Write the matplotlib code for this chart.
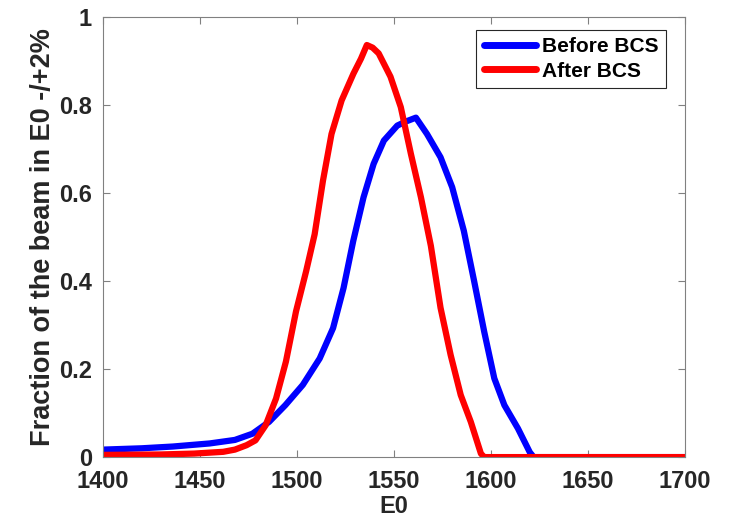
import numpy as np
import matplotlib.pyplot as plt

# Before BCS (blue)
e_before = [1400, 1420, 1436, 1455, 1468, 1477, 1485.6, 1494, 1503, 1511.7, 1518.6, 1524,
            1529, 1534.3, 1539.5, 1544.8, 1551.7, 1556, 1561.3, 1567, 1574, 1580, 1586,
            1591.3, 1596.5, 1601.7, 1606.9, 1613.9, 1620, 1622, 1700]
f_before = [0.017, 0.02, 0.024, 0.031, 0.039, 0.053, 0.08, 0.118, 0.164, 0.224, 0.293, 0.384,
            0.491, 0.59, 0.666, 0.719, 0.753, 0.762, 0.771, 0.734, 0.681, 0.613, 0.514,
            0.40, 0.285, 0.179, 0.118, 0.065, 0.011, 0.0, 0.0]

# After BCS (red)
e_after = [1400, 1430, 1447, 1462, 1468, 1474, 1478.6, 1483.8, 1489.2, 1494.3, 1499.5, 1504.7,
           1509.1, 1513.4, 1517.8, 1523, 1529.1, 1533, 1536, 1539, 1542.1, 1548.2, 1553.5,
           1558.7, 1563.9, 1569, 1574, 1579.2, 1584.4, 1589.6, 1594.8, 1596.5, 1700]
f_after = [0.005, 0.006, 0.008, 0.012, 0.017, 0.027, 0.038, 0.072, 0.133, 0.217, 0.331, 0.422,
           0.506, 0.628, 0.734, 0.81, 0.871, 0.905, 0.936, 0.93, 0.917, 0.864, 0.795,
           0.689, 0.59, 0.48, 0.339, 0.232, 0.141, 0.08, 0.008, 0.0, 0.0]

xticks = [1400, 1450, 1500, 1550, 1600, 1650, 1700]
yticks = [0, 0.2, 0.4, 0.6, 0.8, 1]
ytick_labels = ['0', '0.2', '0.4', '0.6', '0.8', '1']

plt.rcParams['font.family'] = ['Liberation Sans', 'DejaVu Sans']
plt.rcParams['font.weight'] = 'bold'

fig = plt.figure(figsize=(7.33, 5.26), dpi=100)
ax = fig.add_axes([0.1405, 0.131, 0.794, 0.837])

ax.plot(e_before, f_before, color='#0000ff', lw=4.5, label='Before BCS',
        solid_joinstyle='round', solid_capstyle='round')
ax.plot(e_after, f_after, color='#ff0000', lw=4.5, label='After BCS',
        solid_joinstyle='round', solid_capstyle='round')

ax.set_xlim(1400, 1700)
ax.set_ylim(0, 1)
ax.set_xticks(xticks)
ax.set_yticks(yticks)
ax.set_yticklabels(ytick_labels)

ax.tick_params(direction='in', top=True, right=True, labelsize=17, colors='#808080',
               labelcolor='#262626', length=5, width=0.8)
ax.tick_params(axis='x', pad=9)
ax.tick_params(axis='y', pad=8)
for s in ax.spines.values():
    s.set_color('#808080')
    s.set_linewidth(0.8)

ax.set_xlabel('E0', fontsize=17, fontweight='bold', color='#262626', labelpad=2)
ax.set_ylabel('Fraction of the beam in E0 -/+2%', fontsize=19.5, fontweight='bold',
              color='#262626', labelpad=2)

leg = ax.legend(loc='upper right', bbox_to_anchor=(0.967, 0.97), borderaxespad=0,
                fontsize=15, handlelength=2.5, fancybox=False, framealpha=1,
                edgecolor='#262626', borderpad=0.35, labelspacing=0.25, handletextpad=0.3)
leg.get_frame().set_linewidth(0.8)
for line in leg.get_lines():
    line.set_linewidth(5)

fig.savefig('out.png', dpi=100)
